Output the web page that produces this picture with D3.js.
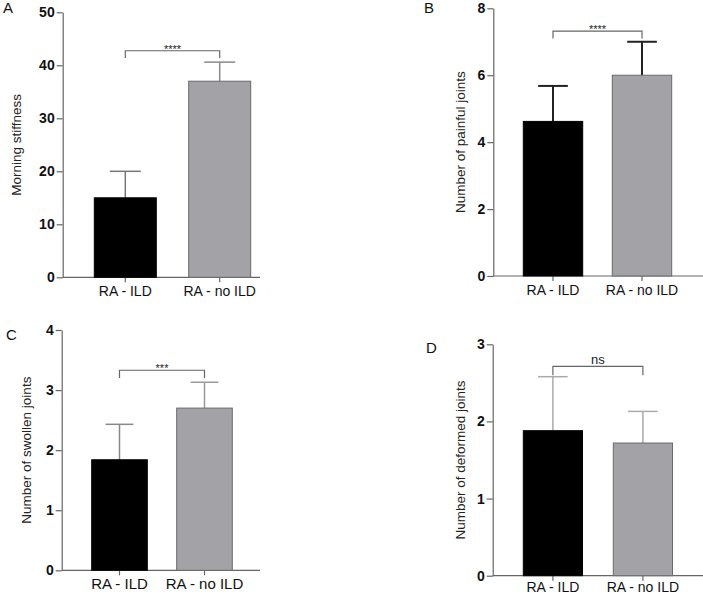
<!DOCTYPE html>
<html>
<head>
<meta charset="utf-8">
<script src="https://cdn.jsdelivr.net/npm/d3@7"></script>
<style>
  body { margin: 0; background: #fff; }
  svg { display: block; font-family: "Liberation Sans", Arial, sans-serif; }
</style>
</head>
<body>
<svg id="chart" width="703" height="595"></svg>
<script>
// Groups shared by all four panels
const groups = ["RA - ILD", "RA - no ILD"];

// Means and SD (upper error bar)
const stiffnessMean = [15, 37];
const stiffnessSd   = [5, 3.6];
const painfulMean   = [4.62, 6.0];
const painfulSd     = [1.06, 1.0];
const swollenMean   = [1.84, 2.70];
const swollenSd     = [0.59, 0.43];
const deformedMean  = [1.88, 1.72];
const deformedSd    = [0.70, 0.41];

// Significance labels and bracket heights (data units)
const sigLabels  = ["****", "****", "***", "ns"];
const bracketTop = [42.75, 7.32, 3.33, 2.715];
const bracketLow = [41.4, 7.1, 3.2, 2.6];

const yTicksA = [0, 10, 20, 30, 40, 50];
const yTicksB = [0, 2, 4, 6, 8];
const yTicksC = [0, 1, 2, 3, 4];
const yTicksD = [0, 1, 2, 3];

const svg = d3.select("#chart");

// layout per panel: axis position, pixel extents, bar geometry, styles
const panels = [
  { letter: "A", lx: 3, ly: 13, title: "Morning stiffness", tx: 16, ymax: 50, ticks: yTicksA,
    mean: stiffnessMean, sd: stiffnessSd, left: 62.7, right: 260, top: 12.3, bottom: 277.3,
    firstBar: 94.3, step: 94.4, bw: 62, err: ["#777", "#8a8a8a"], errW: 1.5, labelSize: 14, labelY: 9, starSize: 11 },
  { letter: "B", lx: 424, ly: 13, title: "Number of painful joints", tx: 460, ymax: 8, ticks: yTicksB,
    mean: painfulMean, sd: painfulSd, left: 493.3, right: 703, top: 8.3, bottom: 276,
    firstBar: 523.3, step: 89, bw: 59.4, err: ["#222", "#222"], errW: 2, labelSize: 14, labelY: 9, starSize: 11 },
  { letter: "C", lx: 6, ly: 340, title: "Number of swollen joints", tx: 26.7, ymax: 4, ticks: yTicksC,
    mean: swollenMean, sd: swollenSd, left: 61.7, right: 260, top: 330, bottom: 570.3,
    firstBar: 91.7, step: 85, bw: 55.6, err: ["#888", "#999"], errW: 1.5, labelSize: 15, labelY: 8, starSize: 11 },
  { letter: "D", lx: 426, ly: 353, title: "Number of deformed joints", tx: 460, ymax: 3, ticks: yTicksD,
    mean: deformedMean, sd: deformedSd, left: 492.7, right: 703, top: 344.3, bottom: 575.7,
    firstBar: 523.3, step: 90, bw: 59.2, err: ["#aaa", "#aaa"], errW: 1.5, labelSize: 14, labelY: 6, starSize: 13 },
];

panels.forEach((p, i) => {
  const g = svg.append("g");
  const pad = (p.step - p.bw) / p.step;
  const a = p.firstBar - (p.step - p.bw) / 2;

  const x = d3.scaleBand().domain(groups)
    .range([a, a + 2 * p.step])
    .paddingInner(pad).paddingOuter(pad / 2);
  const y = d3.scaleLinear().domain([0, p.ymax]).range([p.bottom, p.top]);

  const rows = groups.map((name, j) => ({ name, mean: p.mean[j], sd: p.sd[j], j }));

  // y axis
  const yAxis = g.append("g")
    .attr("transform", `translate(${p.left},0)`)
    .call(d3.axisLeft(y).tickValues(p.ticks).tickSize(6).tickSizeOuter(0).tickFormat(d3.format("d")));
  yAxis.select(".domain").attr("stroke", "#666").attr("stroke-width", 1.2);
  yAxis.selectAll(".tick line").attr("stroke", "#666").attr("stroke-width", 1.2);
  yAxis.selectAll(".tick text")
    .attr("font-size", 14).attr("font-weight", "bold").attr("fill", "#111")
    .attr("font-family", "Liberation Sans, Arial, sans-serif").attr("x", -8);

  // x axis baseline + ticks at bar centres
  g.append("line")
    .attr("x1", p.left).attr("x2", p.right)
    .attr("y1", p.bottom).attr("y2", p.bottom)
    .attr("stroke", "#666").attr("stroke-width", 1.2);
  const xAxis = g.append("g")
    .attr("transform", `translate(0,${p.bottom})`)
    .call(d3.axisBottom(x).tickSize(5).tickSizeOuter(0));
  xAxis.select(".domain").remove();
  xAxis.selectAll(".tick line").attr("stroke", "#666").attr("stroke-width", 1.2);
  xAxis.selectAll(".tick text")
    .attr("font-size", p.labelSize).attr("fill", "#111")
    .attr("font-family", "Liberation Sans, Arial, sans-serif").attr("y", p.labelY);

  // error bars (upper only), drawn before bars
  const cap = p.bw / 2;
  const eb = g.append("g").selectAll("g").data(rows).enter().append("g");
  eb.append("line")
    .attr("x1", d => x(d.name) + p.bw / 2).attr("x2", d => x(d.name) + p.bw / 2)
    .attr("y1", d => y(d.mean)).attr("y2", d => y(d.mean + d.sd))
    .attr("stroke", d => p.err[d.j]).attr("stroke-width", p.errW);
  eb.append("line")
    .attr("x1", d => x(d.name) + p.bw / 2 - cap / 2).attr("x2", d => x(d.name) + p.bw / 2 + cap / 2)
    .attr("y1", d => y(d.mean + d.sd)).attr("y2", d => y(d.mean + d.sd))
    .attr("stroke", d => p.err[d.j]).attr("stroke-width", p.errW);

  // bars
  g.append("g").selectAll("rect").data(rows).enter().append("rect")
    .attr("x", d => x(d.name)).attr("width", x.bandwidth())
    .attr("y", d => y(d.mean)).attr("height", d => y(0) - y(d.mean))
    .attr("fill", d => d.j === 0 ? "#000" : "#a3a2a7")
    .attr("stroke", d => d.j === 0 ? "#000" : "#6a6a6a")
    .attr("stroke-width", 1);

  // significance bracket
  const cx0 = x(groups[0]) + p.bw / 2, cx1 = x(groups[1]) + p.bw / 2;
  const yt = y(bracketTop[i]), yl = y(bracketLow[i]);
  g.append("path")
    .attr("d", `M${cx0},${yl}V${yt}H${cx1}V${yl}`)
    .attr("fill", "none").attr("stroke", "#666").attr("stroke-width", 1.2);
  g.append("text")
    .attr("x", (cx0 + cx1) / 2).attr("y", yt - (sigLabels[i] === "ns" ? 2 : -2))
    .attr("text-anchor", "middle").attr("font-size", p.starSize).attr("fill", "#222")
    .text(sigLabels[i]);

  // y title
  g.append("text")
    .attr("transform", `translate(${p.tx},${(p.top + p.bottom) / 2}) rotate(-90)`)
    .attr("text-anchor", "middle").attr("dy", "0.35em")
    .attr("font-size", 13.5).attr("fill", "#222")
    .text(p.title);

  // panel letter
  g.append("text")
    .attr("x", p.lx).attr("y", p.ly)
    .attr("font-size", 15).attr("fill", "#111")
    .text(p.letter);
});
</script>
</body>
</html>
